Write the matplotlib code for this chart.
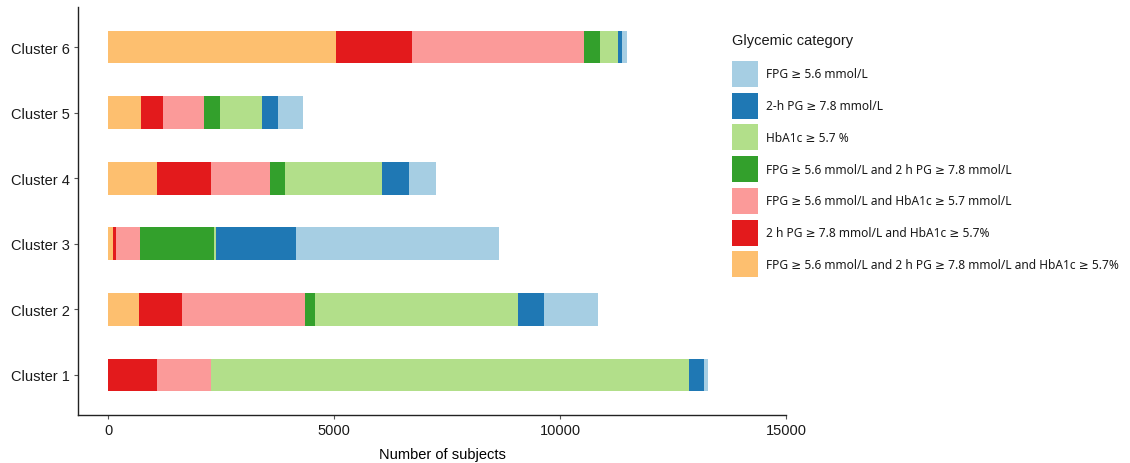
import matplotlib
matplotlib.use("Agg")
import matplotlib.pyplot as plt
from matplotlib.patches import Rectangle
import numpy as np

# Subjects per cluster, split by glycemic category (stacking order, left to right)
clusters = ["Cluster 1", "Cluster 2", "Cluster 3", "Cluster 4", "Cluster 5", "Cluster 6"]

fpg_2h_hba1c = [0, 690, 110, 1090, 735, 5055]
pg2h_hba1c = [1090, 955, 70, 1195, 480, 1660]
fpg_hba1c = [1195, 2720, 530, 1305, 910, 3805]
fpg_2h = [0, 220, 1635, 330, 355, 355]
hba1c = [10570, 4495, 50, 2150, 935, 405]
pg2h = [330, 555, 1770, 595, 350, 85]
fpg = [85, 1215, 4495, 600, 555, 110]

series = [fpg_2h_hba1c, pg2h_hba1c, fpg_hba1c, fpg_2h, hba1c, pg2h, fpg]
series_labels = [
    "FPG \u2265 5.6 mmol/L and 2 h PG \u2265 7.8 mmol/L and HbA1c \u2265 5.7%",
    "2 h PG \u2265 7.8 mmol/L and HbA1c \u2265 5.7%",
    "FPG \u2265 5.6 mmol/L and HbA1c \u2265 5.7 mmol/L",
    "FPG \u2265 5.6 mmol/L and 2 h PG \u2265 7.8 mmol/L",
    "HbA1c \u2265 5.7 %",
    "2-h PG \u2265 7.8 mmol/L",
    "FPG \u2265 5.6 mmol/L",
]
series_colors = ["#FDBF6F", "#E31A1C", "#FB9A99", "#33A02C", "#B2DF8A", "#1F78B4", "#A6CEE3"]

x_ticks = [0, 5000, 10000, 15000]
x_tick_labels = ["0", "5000", "10000", "15000"]

W, H = 1130, 464
fig = plt.figure(figsize=(W / 100, H / 100), dpi=100)
ax = fig.add_axes([78 / W, (H - 416) / H, (786 - 78) / W, (416 - 8) / H])

ypos = np.arange(1, len(clusters) + 1)
left = np.zeros(len(clusters))
for vals, col in zip(series, series_colors):
    vals = np.asarray(vals, dtype=float)
    ax.barh(ypos, vals, left=left, height=0.5, color=col, linewidth=0)
    left += vals

ax.set_xlim(-664, 15000)
ax.set_ylim(0.39, 6.61)
ax.set_yticks(ypos)
ax.set_yticklabels(clusters, fontsize=10.5, family="Liberation Sans", color="#1a1a1a")
ax.set_xticks(x_ticks)
ax.set_xticklabels(x_tick_labels, fontsize=10.5, family="Liberation Sans", color="#1a1a1a")
ax.set_xlabel("Number of subjects", fontsize=10.5, family="Liberation Sans")
ax.xaxis.set_label_coords((442 - 78) / 708, -(455 - 416) / 408)
ax.xaxis.label.set_va("center")

for s in ("top", "right"):
    ax.spines[s].set_visible(False)
for s in ("left", "bottom"):
    ax.spines[s].set_linewidth(1.0)
    ax.spines[s].set_color("#222222")
ax.tick_params(axis="both", length=3, width=0.8, color="#555555", pad=3)

# Legend drawn in pixel space, top entry = last stacked series
fig.text(732 / W, 1 - 41 / H, "Glycemic category", fontsize=10.5,
         family="Liberation Sans", va="center", ha="left", color="#1a1a1a")
for i, (lab, col) in enumerate(zip(series_labels[::-1], series_colors[::-1])):
    top = 62 + i * 31.7
    fig.patches.append(Rectangle((732 / W, 1 - (top + 26) / H), 26 / W, 26 / H,
                                 transform=fig.transFigure, facecolor=col,
                                 edgecolor="none", figure=fig))
    fig.text(766 / W, 1 - (top + 13) / H, lab, fontsize=8.6,
             family=["Noto Sans", "DejaVu Sans"],
             va="center", ha="left", color="#1a1a1a")

fig.savefig("out.png", dpi=100)
